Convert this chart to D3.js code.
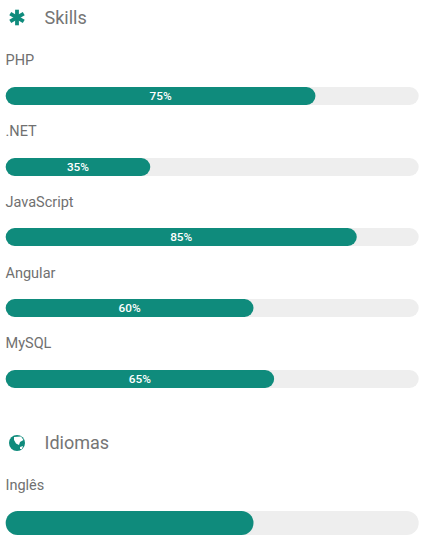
<!DOCTYPE html>
<html><head><meta charset="utf-8">
<script src="https://cdn.jsdelivr.net/npm/d3@7/dist/d3.min.js"></script>
<style>html,body{margin:0;padding:0;background:#fff}svg{display:block}text{font-family:Roboto,sans-serif}</style>
</head><body><div id="c"></div>
<script>
const skills = ["PHP", ".NET", "JavaScript", "Angular", "MySQL"];
const skillValues = [75, 35, 85, 60, 65];
const languages = ["Inglês"];
const languageValues = [60];
const teal = "#0f8b7c", track = "#eeeeee", labelCol = "#707070", headCol = "#757575";

const svg = d3.select("#c").append("svg").attr("width", 430).attr("height", 550);
const x = d3.scaleLinear().domain([0, 100]).range([5.7, 418.7]);
const ySkill = d3.scalePoint().domain(skills).range([87, 369.9]);

function bar(y, h, v, showLabel) {
  svg.append("rect").attr("x", x(0)).attr("y", y).attr("width", x(100) - x(0)).attr("height", h).attr("rx", h / 2).attr("fill", track);
  svg.append("rect").attr("x", x(0)).attr("y", y).attr("width", x(v) - x(0)).attr("height", h).attr("rx", h / 2).attr("fill", teal);
  if (showLabel) svg.append("text").attr("x", (x(0) + x(v)) / 2).attr("y", y + 13).attr("text-anchor", "middle")
    .attr("font-size", 11.8).attr("font-weight", 500).attr("fill", "#fff").text(v + "%");
}
function label(y, t) {
  svg.append("text").attr("x", 5.5).attr("y", y).attr("font-size", 14.5).attr("fill", labelCol).text(t);
}
function head(y, t) {
  svg.append("text").attr("x", 44.5).attr("y", y).attr("font-size", 18).attr("fill", headCol).text(t);
}

// Skills
head(24, "Skills");
const star = svg.append("g").attr("transform", "translate(17,17.5)");
[0, 60, 120].forEach(a => star.append("line").attr("x1", 0).attr("y1", -7.8).attr("x2", 0).attr("y2", 7.8)
  .attr("stroke", teal).attr("stroke-width", 3.8).attr("transform", `rotate(${a})`));

skills.forEach((s, i) => {
  const y = ySkill(s);
  label(Math.round(y - 21.6), s);
  bar(Math.round(y), 18, skillValues[i], true);
});

// Idiomas
head(449, "Idiomas");
const globe = svg.append("g").attr("transform", "translate(17,443)");
globe.append("circle").attr("r", 8).attr("fill", teal);
globe.append("path").attr("fill", "#fff").attr("d", "M-3,-6 L4,-6.5 L6.5,-3 L3,-1 L2,2 L-1,0.5 L-3,-3 Z");
globe.append("path").attr("fill", "#fff").attr("d", "M3,4 L6,3 L5,6 L3,6 Z");

languages.forEach((s, i) => {
  label(490, s);
  bar(511, 24, languageValues[i], false);
});
</script></body></html>
